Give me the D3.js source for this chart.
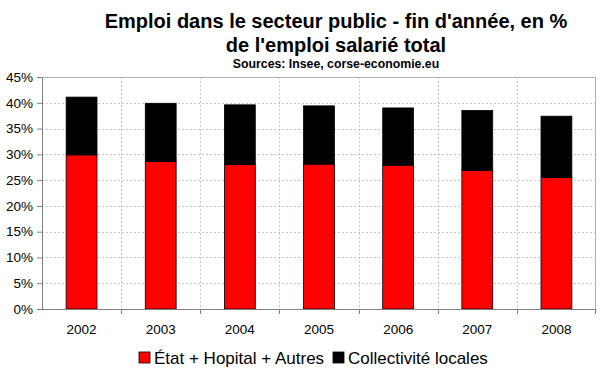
<!DOCTYPE html>
<html>
<head>
<meta charset="utf-8">
<script src="https://cdn.jsdelivr.net/npm/d3@7"></script>
<style>
  body { margin: 0; background: #fff; }
  text { font-family: "Liberation Sans", Arial, sans-serif; fill: #000; }
</style>
</head>
<body>
<div id="chart"></div>
<script>
// data (% of total salaried employment)
var years = ["2002", "2003", "2004", "2005", "2006", "2007", "2008"];
var etat = [29.9, 28.6, 28.0, 28.1, 27.9, 26.9, 25.5];
var collectivites = [11.2, 11.3, 11.6, 11.3, 11.1, 11.6, 11.9];
var yTicks = [0, 5, 10, 15, 20, 25, 30, 35, 40, 45];
var seriesNames = ["État + Hopital + Autres", "Collectivité locales"];
var seriesColors = ["#ff0000", "#000000"];

var svgWidth = 600;
var svgHeight = 372;
var margin = { top: 77, right: 4, bottom: 63, left: 42 };
var width = svgWidth - margin.left - margin.right;
var height = svgHeight - margin.top - margin.bottom;

var svg = d3.select("#chart")
  .append("svg")
  .attr("width", svgWidth)
  .attr("height", svgHeight);

// titles
svg.append("text")
  .attr("x", 336).attr("y", 28)
  .attr("text-anchor", "middle")
  .style("font-size", "20px").style("font-weight", "bold")
  .text("Emploi dans le secteur public - fin d'année, en %");
svg.append("text")
  .attr("x", 336).attr("y", 52)
  .attr("text-anchor", "middle")
  .style("font-size", "20px").style("font-weight", "bold")
  .text("de l'emploi salarié total");
svg.append("text")
  .attr("x", 336).attr("y", 68)
  .attr("text-anchor", "middle")
  .style("font-size", "12.3px").style("font-weight", "bold")
  .text("Sources: Insee, corse-economie.eu");

var chartGroup = svg.append("g")
  .attr("transform", `translate(${margin.left}, ${margin.top})`);

var x = d3.scaleBand().domain(years).range([0, width]).paddingInner(0.61).paddingOuter(0.305);
var xBand = d3.scaleBand().domain(years).range([0, width]);
var y = d3.scaleLinear().domain([0, 45]).range([height, 0]);

// horizontal gridlines
chartGroup.selectAll(".hgrid")
  .data(yTicks.slice(1, -1))
  .enter().append("line")
  .attr("x1", 0).attr("x2", width)
  .attr("y1", d => Math.round(y(d)) + 0.5).attr("y2", d => Math.round(y(d)) + 0.5)
  .attr("stroke", "#c8c8c8").attr("stroke-dasharray", "2,2");

// vertical gridlines at category boundaries
chartGroup.selectAll(".vgrid")
  .data(years.slice(1))
  .enter().append("line")
  .attr("x1", d => Math.round(xBand(d)) + 0.5).attr("x2", d => Math.round(xBand(d)) + 0.5)
  .attr("y1", 0).attr("y2", height)
  .attr("stroke", "#c8c8c8").attr("stroke-dasharray", "2,2");

// plot frame top / right
chartGroup.append("line")
  .attr("x1", 0).attr("x2", width).attr("y1", 0.5).attr("y2", 0.5)
  .attr("stroke", "#b0b0b0");
chartGroup.append("line")
  .attr("x1", width - 0.5).attr("x2", width - 0.5).attr("y1", 0).attr("y2", height)
  .attr("stroke", "#b0b0b0");

// stacked bars
var rows = years.map((yr, i) => ({ year: yr, etat: etat[i], coll: collectivites[i] }));
var stack = d3.stack().keys(["etat", "coll"])(rows);

chartGroup.selectAll(".layer")
  .data(stack)
  .enter().append("g")
  .attr("fill", (d, i) => seriesColors[i])
  .selectAll("rect")
  .data(d => d)
  .enter().append("rect")
  .attr("x", d => x(d.data.year))
  .attr("y", d => y(d[1]))
  .attr("width", x.bandwidth())
  .attr("height", d => y(d[0]) - y(d[1]))
  .attr("stroke", "#000")
  .attr("stroke-width", 0.8);

// y axis
var leftAxis = d3.axisLeft(y)
  .tickValues(yTicks)
  .tickFormat(d => d + "%")
  .tickSize(5)
  .tickPadding(4);
var yAxisG = chartGroup.append("g").call(leftAxis);
yAxisG.select(".domain").attr("stroke", "#808080");
yAxisG.selectAll(".tick line").attr("stroke", "#808080");
yAxisG.selectAll("text").style("font-size", "13.5px").style("font-family", "Liberation Sans, Arial, sans-serif");

// x axis
var bottomAxis = d3.axisBottom(x).tickSize(0).tickPadding(15);
var xAxisG = chartGroup.append("g")
  .attr("transform", `translate(0, ${height})`)
  .call(bottomAxis);
xAxisG.select(".domain").attr("stroke", "#808080");
xAxisG.selectAll("text").style("font-size", "13.5px").style("font-family", "Liberation Sans, Arial, sans-serif");

// category tick marks between bars
chartGroup.selectAll(".xtick")
  .data(years.slice(1).concat(["end"]))
  .enter().append("line")
  .attr("x1", d => d === "end" ? width - 0.5 : Math.round(xBand(d)) + 0.5)
  .attr("x2", d => d === "end" ? width - 0.5 : Math.round(xBand(d)) + 0.5)
  .attr("y1", height).attr("y2", height + 5)
  .attr("stroke", "#808080");

// legend
var legend = svg.append("g").attr("transform", "translate(0, 352)");
var legendX = [139, 333];
seriesNames.forEach(function(name, i) {
  legend.append("rect")
    .attr("x", legendX[i]).attr("y", 0)
    .attr("width", 11).attr("height", 11)
    .attr("fill", seriesColors[i])
    .attr("stroke", "#000").attr("stroke-width", 0.8);
  legend.append("text")
    .attr("x", legendX[i] + 15).attr("y", 11.5)
    .style("font-size", "17px")
    .text(name);
});
</script>
</body>
</html>
